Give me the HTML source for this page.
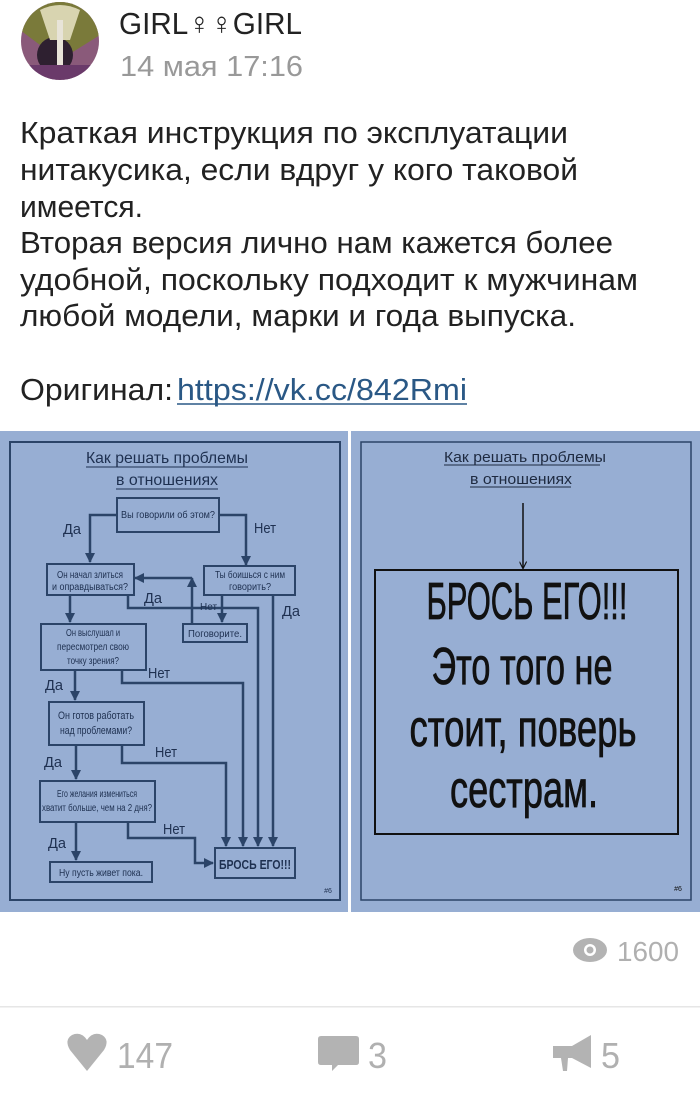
<!DOCTYPE html>
<html><head><meta charset="utf-8"><style>
html,body{margin:0;padding:0;background:#fff;width:700px;height:1096px;overflow:hidden}
svg{display:block}
.b{font-family:"Liberation Sans Narrow","Liberation Sans","Noto Sans CJK SC",sans-serif}
</style></head><body>
<svg width="700" height="1096" viewBox="0 0 700 1096" xmlns="http://www.w3.org/2000/svg" class="b">
<defs><clipPath id="av"><circle cx="60" cy="41" r="39"/></clipPath>
<marker id="ah" viewBox="0 0 10 10" refX="9" refY="5" markerWidth="4" markerHeight="4" orient="auto"><path d="M0,0L10,5L0,10z" fill="#2b4468"/></marker>
<marker id="ak" viewBox="0 0 10 10" refX="9" refY="5" markerWidth="5" markerHeight="5" orient="auto"><path d="M0,0L10,5L0,10" fill="none" stroke="#111" stroke-width="1.5"/></marker>
</defs>
<g clip-path="url(#av)">
<rect x="20" y="0" width="80" height="82" fill="#8a5a7a"/>
<path d="M20,0 L100,0 L100,35 L60,60 L20,30z" fill="#7a7a3a"/>
<circle cx="55" cy="55" r="18" fill="#2e2030"/>
<path d="M40,10 Q60,0 80,10 L70,40 L50,40z" fill="#d8d4b0"/>
<rect x="57" y="20" width="6" height="60" fill="#e8e4d8"/>
<rect x="20" y="65" width="80" height="17" fill="#6a3a6a"/>
</g>
<text x="119" y="34" font-family="Liberation Sans,sans-serif" font-size="31" fill="#222" textLength="183" lengthAdjust="spacingAndGlyphs">GIRL♀♀GIRL</text>
<text x="120" y="76" font-family="Liberation Sans,sans-serif" font-size="29" fill="#999" textLength="183" lengthAdjust="spacingAndGlyphs">14 мая 17:16</text>

<g font-size="31" fill="#222">
<text x="20" y="143" textLength="548" lengthAdjust="spacingAndGlyphs">Краткая инструкция по эксплуатации</text>
<text x="20" y="180" textLength="558" lengthAdjust="spacingAndGlyphs">нитакусика, если вдруг у кого таковой</text>
<text x="20" y="217" textLength="123" lengthAdjust="spacingAndGlyphs">имеется.</text>
<text x="20" y="253" textLength="593" lengthAdjust="spacingAndGlyphs">Вторая версия лично нам кажется более</text>
<text x="20" y="290" textLength="618" lengthAdjust="spacingAndGlyphs">удобной, поскольку подходит к мужчинам</text>
<text x="20" y="326" textLength="556" lengthAdjust="spacingAndGlyphs">любой модели, марки и года выпуска.</text>
<text x="20" y="400" textLength="153" lengthAdjust="spacingAndGlyphs">Оригинал:</text>
<text x="177" y="400" fill="#2a5885" textLength="290" lengthAdjust="spacingAndGlyphs">https://vk.cc/842Rmi</text>
</g>
<line x1="177" y1="404" x2="467" y2="404" stroke="#2a5885" stroke-width="1.5"/>

<!-- left panel -->
<rect x="0" y="431" width="348" height="481" fill="#97aed3"/>
<rect x="10" y="442" width="330" height="458" fill="none" stroke="#2b4468" stroke-width="2"/>
<g fill="#1e3050" text-anchor="middle">
<text x="167" y="463" font-size="16" textLength="162" lengthAdjust="spacingAndGlyphs">Как решать проблемы</text>
<line x1="86" y1="467" x2="248" y2="467" stroke="#1e3050"/>
<text x="167" y="485" font-size="16" textLength="102" lengthAdjust="spacingAndGlyphs">в отношениях</text>
<line x1="116" y1="489" x2="218" y2="489" stroke="#1e3050"/>
</g>
<g fill="none" stroke="#2b4468" stroke-width="2">
<rect x="117" y="498" width="102" height="34"/>
<rect x="47" y="564" width="87" height="31"/>
<rect x="204" y="566" width="91" height="29"/>
<rect x="183" y="624" width="64" height="18"/>
<rect x="41" y="624" width="105" height="46"/>
<rect x="49" y="702" width="95" height="43"/>
<rect x="40" y="781" width="115" height="41"/>
<rect x="50" y="862" width="102" height="20"/>
<rect x="215" y="848" width="80" height="30"/>
<g stroke-width="2.5">
<polyline points="117,515 90,515 90,562" marker-end="url(#ah)"/>
<polyline points="219,515 246,515 246,565" marker-end="url(#ah)"/>
<polyline points="192,624 192,578" marker-end="url(#ah)"/>
<polyline points="192,578 135,578" marker-end="url(#ah)"/>
<polyline points="222,595 222,622" marker-end="url(#ah)"/>
<polyline points="70,595 70,622" marker-end="url(#ah)"/>
<polyline points="128,595 128,608 258,608 258,846" marker-end="url(#ah)"/>
<polyline points="273,595 273,846" marker-end="url(#ah)"/>
<polyline points="75,670 75,700" marker-end="url(#ah)"/>
<polyline points="122,670 122,683 243,683 243,846" marker-end="url(#ah)"/>
<polyline points="76,745 76,779" marker-end="url(#ah)"/>
<polyline points="122,745 122,763 226,763 226,846" marker-end="url(#ah)"/>
<polyline points="76,822 76,860" marker-end="url(#ah)"/>
<polyline points="128,822 128,838 195,838 195,863 213,863" marker-end="url(#ah)"/>
</g></g>
<g fill="#1e3050" text-anchor="middle" font-size="10">
<text x="168" y="518" textLength="94" lengthAdjust="spacingAndGlyphs">Вы говорили об этом?</text>
<text x="90" y="578" textLength="66" lengthAdjust="spacingAndGlyphs">Он начал злиться</text>
<text x="90" y="590" textLength="76" lengthAdjust="spacingAndGlyphs">и оправдываться?</text>
<text x="250" y="578" textLength="70" lengthAdjust="spacingAndGlyphs">Ты боишься с ним</text>
<text x="250" y="590" textLength="42" lengthAdjust="spacingAndGlyphs">говорить?</text>
<text x="215" y="637" textLength="54" lengthAdjust="spacingAndGlyphs">Поговорите.</text>
<text x="93" y="636" textLength="54" lengthAdjust="spacingAndGlyphs">Он выслушал и</text>
<text x="93" y="650" textLength="72" lengthAdjust="spacingAndGlyphs">пересмотрел свою</text>
<text x="93" y="664" textLength="52" lengthAdjust="spacingAndGlyphs">точку зрения?</text>
<text x="96" y="719" font-size="11" textLength="76" lengthAdjust="spacingAndGlyphs">Он готов работать</text>
<text x="96" y="734" font-size="11" textLength="72" lengthAdjust="spacingAndGlyphs">над проблемами?</text>
<text x="97" y="797" textLength="80" lengthAdjust="spacingAndGlyphs">Его желания измениться</text>
<text x="97" y="811" textLength="110" lengthAdjust="spacingAndGlyphs">хватит больше, чем на 2 дня?</text>
<text x="101" y="876" textLength="84" lengthAdjust="spacingAndGlyphs">Ну пусть живет пока.</text>
<text x="255" y="869" font-size="13" font-weight="bold" textLength="72" lengthAdjust="spacingAndGlyphs">БРОСЬ ЕГО!!!</text>
<text x="328" y="893" font-size="7">#6</text>
</g>
<g fill="#1e3050" font-size="15">
<text x="63" y="534" textLength="18" lengthAdjust="spacingAndGlyphs">Да</text><text x="254" y="533" textLength="22" lengthAdjust="spacingAndGlyphs">Нет</text>
<text x="144" y="603" textLength="18" lengthAdjust="spacingAndGlyphs">Да</text><text x="200" y="610" font-size="10">Нет</text>
<text x="282" y="616" textLength="18" lengthAdjust="spacingAndGlyphs">Да</text><text x="148" y="678" textLength="22" lengthAdjust="spacingAndGlyphs">Нет</text>
<text x="45" y="690" textLength="18" lengthAdjust="spacingAndGlyphs">Да</text><text x="155" y="757" textLength="22" lengthAdjust="spacingAndGlyphs">Нет</text>
<text x="44" y="767" textLength="18" lengthAdjust="spacingAndGlyphs">Да</text><text x="163" y="834" textLength="22" lengthAdjust="spacingAndGlyphs">Нет</text>
<text x="48" y="848" textLength="18" lengthAdjust="spacingAndGlyphs">Да</text>
</g>

<!-- right panel -->
<rect x="351" y="431" width="349" height="481" fill="#97aed3"/>
<rect x="361" y="442" width="330" height="458" fill="none" stroke="#2b4468" stroke-width="1.5"/>
<g fill="#1e2a40" text-anchor="middle">
<text x="525" y="462" font-size="15" textLength="162" lengthAdjust="spacingAndGlyphs">Как решать проблемы</text>
<line x1="444" y1="465" x2="600" y2="465" stroke="#1e2a40"/>
<text x="521" y="484" font-size="15" textLength="102" lengthAdjust="spacingAndGlyphs">в отношениях</text>
<line x1="470" y1="487" x2="571" y2="487" stroke="#1e2a40"/>
</g>
<line x1="523" y1="503" x2="523" y2="568" stroke="#111" stroke-width="1.5" marker-end="url(#ak)"/>
<rect x="375" y="570" width="303" height="264" fill="none" stroke="#111" stroke-width="2"/>
<g fill="#111" text-anchor="middle" font-size="52" stroke="#111" stroke-width="0.8">
<text x="527" y="619" textLength="201" lengthAdjust="spacingAndGlyphs">БРОСЬ ЕГО!!!</text>
<text x="522" y="684" textLength="181" lengthAdjust="spacingAndGlyphs">Это того не</text>
<text x="523" y="746" textLength="227" lengthAdjust="spacingAndGlyphs">стоит, поверь</text>
<text x="524" y="807" textLength="148" lengthAdjust="spacingAndGlyphs">сестрам.</text>
</g>
<text x="678" y="891" font-size="7" fill="#111" text-anchor="middle">#6</text>

<!-- footer -->
<ellipse cx="590" cy="950" rx="17" ry="12" fill="#b3b3b3"/>
<circle cx="590" cy="950" r="6" fill="#fff"/><circle cx="590" cy="950" r="3.5" fill="#b3b3b3"/>
<text x="617" y="961" font-size="28" fill="#b0b0b0" textLength="62" lengthAdjust="spacingAndGlyphs">1600</text>
<rect x="0" y="1006" width="700" height="1.5" fill="#e6e6e6"/>
<path d="M87,1071 L70,1050 Q64,1040 72,1035 Q81,1031 87,1040 Q93,1031 102,1035 Q110,1040 104,1050z" fill="#b3b3b3"/>
<text x="117" y="1068" font-size="36" fill="#b0b0b0" textLength="56" lengthAdjust="spacingAndGlyphs">147</text>
<path d="M321,1036 H356 Q359,1036 359,1039 V1062 Q359,1065 356,1065 H338 L332,1071 L332,1065 H321 Q318,1065 318,1062 V1039 Q318,1036 321,1036z" fill="#b3b3b3"/>
<text x="368" y="1068" font-size="36" fill="#b0b0b0" textLength="19" lengthAdjust="spacingAndGlyphs">3</text>
<path d="M553,1046 H572 L591,1035 V1068 L572,1058 H568 L567,1071 H563 L561,1058 H553z" fill="#b3b3b3"/>
<text x="601" y="1068" font-size="36" fill="#b0b0b0" textLength="19" lengthAdjust="spacingAndGlyphs">5</text>
</svg>
</body></html>
